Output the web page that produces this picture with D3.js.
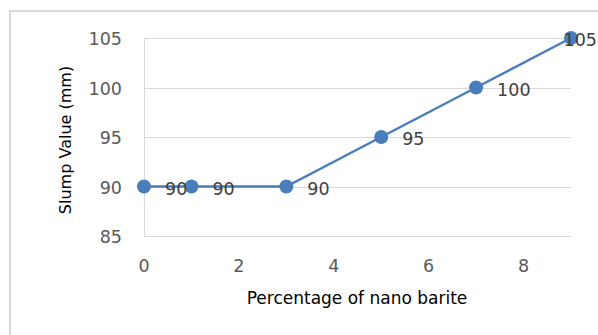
<!DOCTYPE html>
<html>
<head>
<meta charset="utf-8">
<script src="https://cdn.jsdelivr.net/npm/d3@7"></script>
<style>
  html, body { margin: 0; padding: 0; background: #fff; }
  svg { display: block; }
  text { font-family: "DejaVu Sans", "Liberation Sans", sans-serif; }
</style>
</head>
<body>
<svg id="chart" width="598" height="335"></svg>
<script>
// Slump value against nano barite content
const nanoBarite = [0, 1, 3, 5, 7, 9];
const slumpValue = [90, 90, 90, 95, 100, 105];
const xTicks = [0, 2, 4, 6, 8];
const yTicks = [85, 90, 95, 100, 105];

const W = 598, H = 335;
const svg = d3.select("#chart");

// chart frame (right and bottom edges run off the canvas)
svg.append("rect")
  .attr("x", 10).attr("y", 11)
  .attr("width", W).attr("height", H)
  .attr("fill", "#fff")
  .attr("stroke", "#d9d9d9").attr("stroke-width", 2);

const x = d3.scaleLinear().domain([0, 9]).range([144, 571]);
const y = d3.scaleLinear().domain([85, 105]).range([236, 38]);

// horizontal gridlines
svg.append("g").selectAll("line").data(yTicks).join("line")
  .attr("x1", x(0)).attr("x2", x(9))
  .attr("y1", d => Math.round(y(d)) + 0.5).attr("y2", d => Math.round(y(d)) + 0.5)
  .attr("stroke", "#d9d9d9").attr("stroke-width", 1);

// vertical axis line
svg.append("line")
  .attr("x1", x(0) + 0.5).attr("x2", x(0) + 0.5)
  .attr("y1", y(105)).attr("y2", y(85))
  .attr("stroke", "#d9d9d9").attr("stroke-width", 1);

// y tick labels
svg.append("g").selectAll("text").data(yTicks).join("text")
  .attr("x", 122).attr("y", d => y(d) + 7)
  .attr("text-anchor", "end")
  .attr("font-size", 17.5).attr("fill", "#595959")
  .text(d => d);

// x tick labels
svg.append("g").selectAll("text").data(xTicks).join("text")
  .attr("x", d => x(d)).attr("y", 272)
  .attr("text-anchor", "middle")
  .attr("font-size", 17.5).attr("fill", "#595959")
  .text(d => d);

// axis titles
svg.append("text")
  .attr("x", 357).attr("y", 304)
  .attr("text-anchor", "middle")
  .attr("font-size", 17).attr("fill", "#000")
  .text("Percentage of nano barite");

svg.append("text")
  .attr("transform", "translate(71,140) rotate(-90)")
  .attr("text-anchor", "middle")
  .attr("font-size", 16).attr("fill", "#000")
  .text("Slump Value (mm)");

const pts = nanoBarite.map((v, i) => ({ x: v, y: slumpValue[i] }));

// series line
svg.append("path")
  .datum(pts)
  .attr("fill", "none")
  .attr("stroke", "#4a7ebb").attr("stroke-width", 2.5)
  .attr("d", d3.line().x(d => x(d.x)).y(d => y(d.y)));

// markers
svg.append("g").selectAll("circle").data(pts).join("circle")
  .attr("cx", d => x(d.x)).attr("cy", d => y(d.y))
  .attr("r", 7).attr("fill", "#4a7ebb");

// data labels to the right of each point, kept inside the canvas
const labels = svg.append("g").selectAll("text").data(pts).join("text")
  .attr("y", d => y(d.y) + 8)
  .attr("font-size", 17.5).attr("fill", "#404040")
  .text(d => d.y);
labels.each(function (d) {
  const w = this.getComputedTextLength();
  d3.select(this).attr("x", Math.min(x(d.x) + 21, W - 1 - w));
});
</script>
</body>
</html>
